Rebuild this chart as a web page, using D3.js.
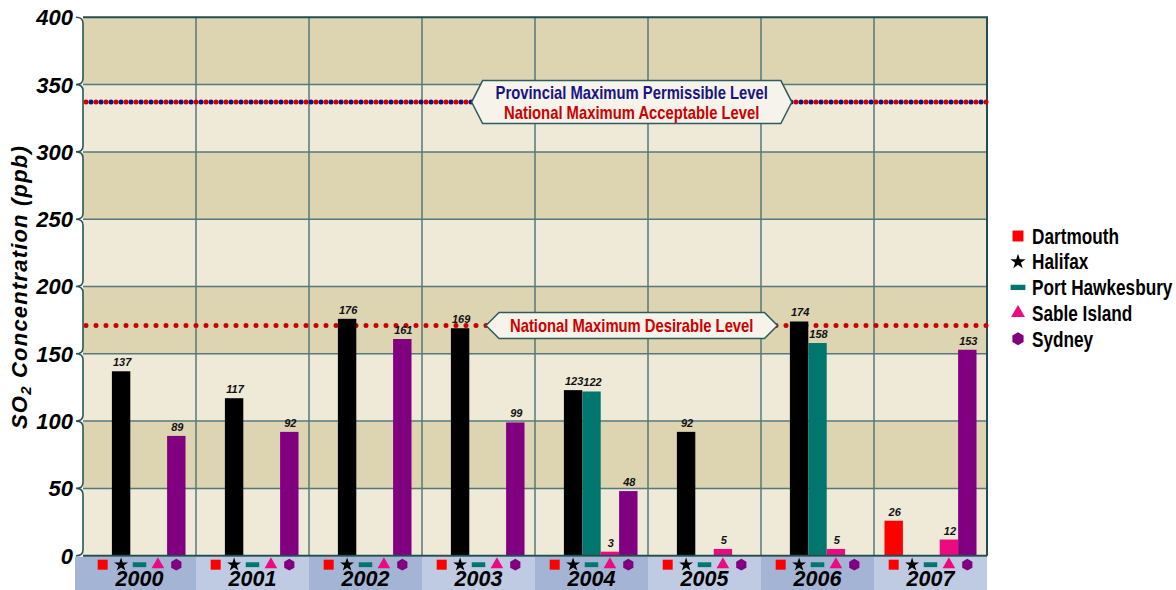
<!DOCTYPE html>
<html>
<head>
<meta charset="utf-8">
<script src="https://cdn.jsdelivr.net/npm/d3@7"></script>
<style>
  html, body { margin: 0; padding: 0; background: #ffffff; }
  svg { display: block; }
</style>
</head>
<body>
<svg id="chart" width="1176" height="590"></svg>
<script>
// Annual maximum 1-hour SO2 concentrations by monitoring station
const years = ["2000", "2001", "2002", "2003", "2004", "2005", "2006", "2007"];
const stations = ["Dartmouth", "Halifax", "Port Hawkesbury", "Sable Island", "Sydney"];
const dartmouth      = [null, null, null, null, null, null, null, 26];
const halifax        = [137, 117, 176, 169, 123, 92, 174, null];
const portHawkesbury = [null, null, null, null, 122, null, 158, null];
const sableIsland    = [null, null, null, null, 3, 5, 5, 12];
const sydney         = [89, 92, 161, 99, 48, null, null, 153];
const yTicks = [0, 50, 100, 150, 200, 250, 300, 350, 400];

// Guideline levels (ppb)
const acceptableLevel = 337;
const desirableLevel = 171;

const seriesValues = [dartmouth, halifax, portHawkesbury, sableIsland, sydney];
const colors = ["#ff0000", "#000000", "#00766e", "#ec0a80", "#800080"];

const regular = "'Liberation Sans', Arial, sans-serif";
const narrow = 0.8; // horizontal squeeze for the condensed-style labels

const svg = d3.select("#chart");
const plot = { left: 83, right: 987, top: 17.3, bottom: 555.7 };

const x = d3.scaleBand().domain(years).range([plot.left, plot.right]).padding(0);
const xs = d3.scaleBand().domain(stations).range([0, x.bandwidth()]).paddingInner(0).paddingOuter(0.57);
const y = d3.scaleLinear().domain([0, 400]).range([plot.bottom, plot.top]);

// Alternating background bands
const bands = d3.pairs(yTicks);
svg.append("g").selectAll("rect").data(bands).join("rect")
  .attr("x", plot.left).attr("width", plot.right - plot.left)
  .attr("y", d => y(d[1])).attr("height", d => y(d[0]) - y(d[1]))
  .attr("fill", (d, i) => i % 2 === 1 ? "#ddd4b1" : "#efead8");

// Grid
const grid = svg.append("g").attr("stroke", "#56787b").attr("stroke-width", 1.5);
grid.selectAll("line.h").data(yTicks.slice(1, -1)).join("line").attr("class", "h")
  .attr("x1", plot.left).attr("x2", plot.right)
  .attr("y1", d => y(d)).attr("y2", d => y(d));
grid.selectAll("line.v").data(years.slice(1)).join("line").attr("class", "v")
  .attr("x1", d => x(d)).attr("x2", d => x(d))
  .attr("y1", plot.top).attr("y2", plot.bottom);

// Frame: top and right borders
svg.append("path")
  .attr("d", `M${plot.left},${plot.top}H${plot.right}V${plot.bottom}`)
  .attr("fill", "none").attr("stroke", "#234d53").attr("stroke-width", 2);

// Guideline dotted lines
const lineG = svg.append("g");
function dotted(val, color, offset) {
  lineG.append("line")
    .attr("x1", plot.left + 3).attr("x2", plot.right)
    .attr("y1", y(val)).attr("y2", y(val))
    .attr("stroke", color).attr("stroke-width", 5)
    .attr("stroke-linecap", "round")
    .attr("stroke-dasharray", "0 10")
    .attr("stroke-dashoffset", offset);
}
dotted(acceptableLevel, "#cc0000", 0);
dotted(acceptableLevel, "#14107e", 5);
dotted(desirableLevel, "#cc0000", 0);

// Guideline label boxes with arrow tips
const labelCx = plot.left + 0.607 * (plot.right - plot.left);
function labelBox(val, lines, lineColors, fontSize, lineGap, padX, padY, tip) {
  const g = svg.append("g");
  const box = g.append("path");
  const texts = lines.map((t, i) => g.append("text")
    .attr("transform", `scale(${narrow},1)`)
    .attr("x", labelCx / narrow)
    .attr("text-anchor", "middle")
    .attr("font-family", regular).attr("font-weight", "bold")
    .attr("font-size", fontSize).attr("fill", lineColors[i])
    .text(t));
  const w = d3.max(texts, t => t.node().getComputedTextLength()) * narrow;
  const h = lines.length * lineGap;
  const cy = y(val);
  texts.forEach((t, i) => t.attr("y", cy - h / 2 + lineGap * (i + 0.5)).attr("dy", "0.36em"));
  const x0 = labelCx - w / 2 - padX, x1 = labelCx + w / 2 + padX;
  const y0 = cy - h / 2 - padY, y1 = cy + h / 2 + padY;
  box.attr("d", `M${x0},${y0}H${x1}L${x1 + tip},${cy}L${x1},${y1}H${x0}L${x0 - tip},${cy}Z`)
    .attr("fill", "#f6f3ea").attr("stroke", "#2e5a60").attr("stroke-width", 1.5);
}
labelBox(acceptableLevel,
  ["Provincial Maximum Permissible Level", "National Maximum Acceptable Level"],
  ["#1a1585", "#cc0000"], 18.5, 19.5, 13, 2, 11);
labelBox(desirableLevel, ["National Maximum Desirable Level"], ["#cc0000"], 18.5, 19, 11, 3.5, 13);

// Bars
const barData = [];
years.forEach((yr, i) => {
  stations.forEach((st, j) => {
    const v = seriesValues[j][i];
    if (v !== null) barData.push({ year: yr, station: st, value: v, color: colors[j] });
  });
});
const barG = svg.append("g");
barG.selectAll("rect").data(barData).join("rect")
  .attr("x", d => x(d.year) + xs(d.station))
  .attr("width", xs.bandwidth())
  .attr("y", d => y(d.value))
  .attr("height", d => y(0) - y(d.value))
  .attr("fill", d => d.color);
barG.selectAll("text").data(barData).join("text")
  .attr("x", d => x(d.year) + xs(d.station) + xs.bandwidth() / 2 + 1)
  .attr("y", d => y(d.value) - 5)
  .attr("text-anchor", "middle")
  .attr("font-family", regular).attr("font-weight", "bold").attr("font-style", "italic")
  .attr("font-size", 11).attr("fill", "#111")
  .text(d => d.value);

// Category strip below the axis
const strip = svg.append("g");
strip.selectAll("rect").data(years).join("rect")
  .attr("x", (d, i) => i === 0 ? x(d) - 8 : x(d))
  .attr("width", (d, i) => i === 0 ? x.bandwidth() + 8 : x.bandwidth())
  .attr("y", plot.bottom + 1).attr("height", 590 - plot.bottom)
  .attr("fill", (d, i) => i % 2 === 0 ? "#a3b4d5" : "#bfcbe3");

// Station symbols
const hexagon = {
  draw(ctx, size) {
    const r = Math.sqrt(size / (1.5 * Math.sqrt(3)));
    for (let k = 0; k < 6; k++) {
      const a = Math.PI / 6 + k * Math.PI / 3;
      if (k === 0) ctx.moveTo(r * Math.cos(a), r * Math.sin(a));
      else ctx.lineTo(r * Math.cos(a), r * Math.sin(a));
    }
    ctx.closePath();
  }
};
const dash = {
  draw(ctx, size) {
    const w = Math.sqrt(size) * 1.35, h = w * 0.36;
    ctx.rect(-w / 2, -h / 2, w, h);
  }
};
const symbolTypes = [d3.symbolSquare, d3.symbolStar, dash, d3.symbolTriangle, hexagon];
const symbolSizes = [100, 60, 100, 70, 90];
function symbolPath(j, scale) {
  return d3.symbol(symbolTypes[j], symbolSizes[j] * scale)();
}

const symData = [];
years.forEach(yr => stations.forEach((st, j) => symData.push({ year: yr, station: st, j })));
strip.selectAll("path").data(symData).join("path")
  .attr("transform", d => `translate(${x(d.year) + xs(d.station) + xs.bandwidth() / 2},${plot.bottom + 9})`)
  .attr("d", d => symbolPath(d.j, 1))
  .attr("fill", d => colors[d.j]);

strip.selectAll("text").data(years).join("text")
  .attr("x", d => x(d) + x.bandwidth() / 2)
  .attr("y", 585.5)
  .attr("text-anchor", "middle")
  .attr("font-family", regular).attr("font-weight", "bold").attr("font-style", "italic")
  .attr("font-size", 21.5).attr("fill", "#000")
  .text(d => d);

// Bottom axis line
svg.append("line")
  .attr("x1", plot.left).attr("x2", plot.right)
  .attr("y1", plot.bottom).attr("y2", plot.bottom)
  .attr("stroke", "#234d53").attr("stroke-width", 2);

// Y axis: brace-style spine with pointed ticks
const tipX = plot.left - 7;
const desc = yTicks.slice().reverse();
let d = `M${tipX},${y(desc[0])}`;
desc.forEach((t, i) => {
  const ty = y(t);
  if (i > 0) d += `L${plot.left},${ty - 6}Q${plot.left},${ty} ${tipX},${ty}`;
  if (i < desc.length - 1) d += `Q${plot.left},${ty} ${plot.left},${ty + 6}`;
});
svg.append("path").attr("d", d).attr("fill", "none")
  .attr("stroke", "#2b555b").attr("stroke-width", 1.6);

svg.append("g").selectAll("text").data(yTicks).join("text")
  .attr("x", tipX - 3).attr("y", t => y(t)).attr("dy", "0.36em")
  .attr("text-anchor", "end")
  .attr("font-family", regular).attr("font-weight", "bold").attr("font-style", "italic")
  .attr("font-size", 22).attr("fill", "#000")
  .text(t => t);

// Y axis title
const title = svg.append("text")
  .attr("transform", `translate(27,287) rotate(-90)`)
  .attr("text-anchor", "middle")
  .attr("font-family", regular).attr("font-weight", "bold").attr("font-style", "italic")
  .attr("font-size", 22).attr("letter-spacing", 1.2).attr("fill", "#000");
title.append("tspan").text("SO");
title.append("tspan").attr("font-size", 15).attr("dy", 4).text("2");
title.append("tspan").attr("dy", -4).text(" Concentration (ppb)");

// Legend
const legend = svg.append("g").attr("transform", "translate(1018,236)");
const rows = legend.selectAll("g").data(stations).join("g")
  .attr("transform", (s, i) => `translate(0,${i * 25.7})`);
rows.append("path")
  .attr("d", (s, i) => symbolPath(i, 1.2))
  .attr("fill", (s, i) => colors[i]);
rows.append("text")
  .attr("transform", `scale(${narrow},1)`)
  .attr("x", 14 / narrow).attr("dy", "0.36em")
  .attr("font-family", regular).attr("font-weight", "bold")
  .attr("font-size", 21.5).attr("fill", "#000")
  .text(s => s);
</script>
</body>
</html>
